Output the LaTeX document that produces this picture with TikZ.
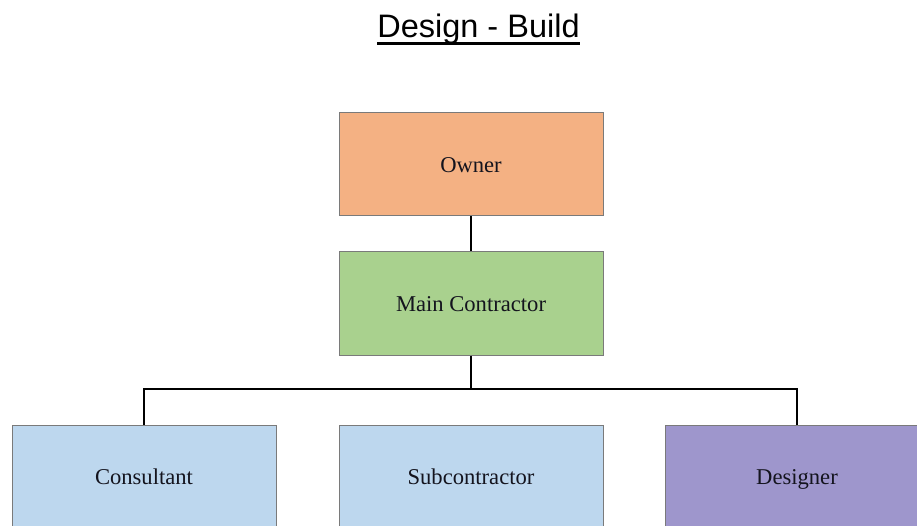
\documentclass[tikz,border=0pt]{standalone}
\usepackage{fontspec}
\setmainfont{Liberation Serif}
\newfontfamily\headfont{Liberation Sans}
\definecolor{ownerfill}{HTML}{F4B183}
\definecolor{mainfill}{HTML}{A9D18E}
\definecolor{bluefill}{HTML}{BDD7EE}
\definecolor{purplefill}{HTML}{9E96CC}
\definecolor{boxline}{HTML}{7A7A7A}
\definecolor{boxtext}{HTML}{14141E}
\begin{document}
\begin{tikzpicture}[x=1pt,y=-1pt,
  orgbox/.style={draw=boxline, line width=1pt, minimum width=264pt, minimum height=103pt,
    inner sep=0pt, text height=15.5pt, text depth=0pt, text=boxtext,
    font=\fontsize{22.6}{27}\selectfont},
  link/.style={line width=2pt, black}]
\useasboundingbox (0,0) rectangle (917,526);
\clip (0,0) rectangle (917,526);

% heading
\node[inner sep=0pt, anchor=base, font=\headfont\fontsize{32.5}{38}\selectfont] (title) at (478.5,38) {Design - Build};
\draw[line width=2.6pt] ([yshift=-5.5pt]title.base west) -- ([yshift=-5.5pt]title.base east);

% boxes
\node[orgbox, fill=ownerfill] (owner) at (471,164.5) {Owner};
\node[orgbox, fill=mainfill] (main) at (471,303.5) {Main Contractor};
\node[orgbox, fill=bluefill] (consultant) at (144,476.5) {Consultant};
\node[orgbox, fill=bluefill] (sub) at (471,476.5) {Subcontractor};
\node[orgbox, fill=purplefill] (designer) at (797,476.5) {Designer};

% connectors
\coordinate (bus) at (471,389);
\draw[link] (owner.south) -- (main.north);
\draw[link] (main.south) -- (bus);
\draw[link] (consultant.north) |- (bus) -| (designer.north);
\end{tikzpicture}
\end{document}
